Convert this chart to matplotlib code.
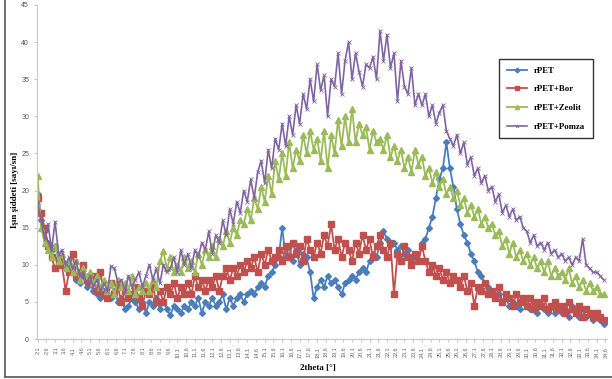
import numpy as np
import matplotlib
matplotlib.use('Agg')
import matplotlib.pyplot as plt
from matplotlib.lines import Line2D

# 2theta [deg], one point every 0.2
theta = np.round(np.arange(2.1, 34.55, 0.2), 1)

rpet = [
    19.5, 16.0, 14.5, 13.0, 12.0, 12.5, 11.0, 10.5, 10.0, 9.0,
    9.5, 8.0, 7.5, 8.5, 7.0, 7.5, 6.5, 6.0, 5.5, 6.5,
    6.0, 5.5, 6.5, 5.0, 5.5, 4.0, 4.5, 5.5, 5.0, 4.0,
    5.0, 3.5, 5.0, 4.5, 5.5, 4.0, 5.0, 4.0, 3.2, 4.5,
    4.0, 3.5, 4.5, 4.0, 5.0, 4.5, 5.5, 3.5, 5.0, 4.5,
    5.5, 4.5, 5.0, 6.0, 4.0, 5.5, 4.5, 5.5, 6.0, 5.0,
    6.0, 6.5, 6.0, 7.0, 7.5, 7.0, 8.5, 9.0, 10.0, 11.0,
    15.0, 11.0, 12.5, 10.5, 12.0, 10.0, 11.5, 11.0, 9.0, 5.5,
    7.0, 8.0, 7.0, 8.5, 7.5, 8.0, 7.0, 6.0, 7.5, 8.0,
    8.5, 8.0, 9.0, 9.5, 9.0, 10.5, 11.5, 11.0, 13.0, 14.5,
    13.5, 12.5, 13.0, 12.0, 12.5, 11.5, 12.0, 10.5, 11.0, 10.5,
    13.0, 13.5, 15.0, 16.5, 19.0, 21.5, 23.0, 26.5, 23.0, 20.5,
    17.5, 15.5, 14.0, 13.0, 11.5, 10.5, 9.0, 8.5, 7.5, 7.0,
    6.5, 5.5, 6.0, 5.0, 5.5, 4.5, 5.0, 4.5, 4.0, 5.0,
    4.5, 4.0, 5.0, 3.5, 4.5, 4.0, 3.5, 4.5, 3.5, 4.0,
    3.5, 4.0, 3.0, 4.5, 3.5, 3.0, 4.0, 3.0, 3.5, 2.5,
    3.0, 2.5, 2.0,
]

rpet_bor = [
    19.0, 17.0, 15.0, 12.5, 11.0, 9.5, 10.5, 10.0, 6.5, 9.0,
    11.5, 8.5, 9.0, 10.0, 8.0, 7.5, 8.5, 6.5, 9.0, 6.0,
    5.5, 7.5, 6.0, 7.0, 5.0, 6.5, 5.5, 6.0, 7.0, 5.5,
    4.5, 6.5, 6.0, 7.0, 5.0, 6.5, 5.0, 7.0, 6.0, 7.5,
    5.5, 7.0, 6.0, 7.5, 6.0, 8.5, 7.0, 8.0, 6.5, 8.0,
    7.0, 8.5, 6.5, 8.5, 9.5, 8.0, 9.5, 8.5, 10.0, 9.0,
    10.5, 9.5, 11.0, 9.0, 11.5, 10.0, 12.0, 10.5, 11.0, 12.0,
    10.5, 12.5, 11.0, 13.0, 11.5, 12.5, 10.5, 13.5, 12.0, 11.0,
    13.0, 11.5, 14.0, 12.5, 15.5, 12.0, 13.5, 11.0, 13.0, 12.0,
    10.5, 13.0, 11.5, 14.0, 12.0, 13.5, 11.0, 12.5, 14.0, 12.0,
    11.0, 13.0, 6.0, 11.5, 10.5, 12.5, 11.0, 10.0, 11.5, 10.5,
    12.5, 10.5, 9.0, 10.0, 8.5, 9.5, 8.0, 9.0, 7.5, 8.5,
    8.0, 7.0, 8.5, 6.5, 7.5, 4.5, 7.0, 6.5, 7.5, 6.0,
    6.5, 5.5, 7.0, 5.0, 6.0, 5.5, 4.5, 6.0, 5.0, 5.5,
    4.5, 5.5, 4.0, 5.0, 4.5, 5.5, 4.0, 4.5, 5.0, 4.0,
    4.5, 3.5, 5.0, 4.0, 3.5, 4.5, 3.0, 4.0, 3.5, 3.0,
    3.5, 3.0, 2.5,
]

rpet_zeolit = [
    22.0, 15.0, 13.0, 12.0, 11.0, 12.5, 10.5, 11.5, 9.5, 10.5,
    9.0, 10.5, 8.0, 9.5, 8.5, 9.0, 7.5, 8.5, 7.0, 8.0,
    6.5, 7.5, 6.0, 8.0, 7.0, 7.5, 6.5, 8.5, 6.0, 7.0,
    6.5, 7.5, 6.5, 8.0, 7.0, 10.5, 11.8, 9.5, 11.0, 9.0,
    10.0, 9.0, 11.0, 9.5, 10.5, 9.0, 11.5, 10.0, 12.0, 11.0,
    12.5, 11.0, 13.5, 12.5, 14.5, 13.0, 15.0, 14.0, 16.0, 15.5,
    17.5, 16.0, 19.0, 17.5, 20.5, 18.5, 22.0, 19.5, 24.0, 21.5,
    25.0, 22.0, 26.5, 23.0, 25.5, 24.0, 27.5, 25.0, 28.0, 25.5,
    27.0, 24.0, 28.0, 23.0, 27.5, 25.0, 29.5, 26.0, 30.0, 26.5,
    31.0, 26.5, 29.0, 27.5, 28.5, 25.5, 28.0, 26.5, 27.0, 25.5,
    27.5, 24.5, 26.0, 24.0, 25.5, 23.0, 24.5, 22.5, 25.5, 23.5,
    24.5, 22.0, 23.0, 21.0, 22.5, 20.5, 21.5, 19.5, 20.5, 19.0,
    20.0, 18.0, 19.0, 17.0, 18.0, 16.5, 17.5, 15.5, 16.5, 15.0,
    15.5, 14.0, 14.5, 12.5, 13.5, 11.5, 13.0, 11.0, 12.0, 10.5,
    11.5, 10.0, 11.0, 9.5, 10.5, 9.0, 10.5, 8.5, 9.5, 8.5,
    9.0, 8.0, 9.5, 7.5, 8.5, 7.0, 8.0, 6.5, 7.5, 6.5,
    7.0, 6.0, 6.0,
]

rpet_pomza = [
    18.5, 16.0, 13.5, 15.5, 12.0, 15.8, 11.5, 12.0, 10.0, 11.0,
    9.5, 10.5, 8.5, 9.0, 7.5, 8.5, 7.0, 8.0, 6.5, 7.5,
    6.5, 9.8, 9.5, 7.5, 8.0, 6.5, 8.5, 7.0, 8.0, 9.0,
    7.0, 8.5, 10.0, 8.0, 9.5, 7.5, 10.0, 9.0, 9.5, 11.0,
    9.0, 12.0, 10.0, 11.5, 9.5, 12.0, 11.0, 13.0, 12.0, 14.5,
    11.5, 14.0, 13.0, 16.0, 14.0, 17.5, 15.5, 18.5, 17.0, 20.0,
    18.5, 21.5, 19.0, 22.5, 24.0, 21.0, 25.5, 23.0, 27.0, 25.5,
    29.0, 26.0, 30.0, 27.5, 31.5, 29.0, 33.0, 31.0, 35.0, 32.0,
    37.0, 33.5, 35.5, 30.0, 35.0, 34.0, 38.5, 33.0, 37.5, 40.0,
    35.0, 38.5, 36.0, 34.0, 37.0, 36.5, 38.0, 35.0, 41.5, 37.5,
    41.0, 36.5, 38.5, 32.0, 37.5, 34.0, 33.0, 36.5, 31.5, 33.0,
    31.5, 33.0, 30.0, 31.5, 29.0, 30.5, 31.5, 28.0, 27.0, 26.0,
    27.5, 25.0, 26.5, 23.5, 24.5, 22.0, 23.0, 21.0, 22.0, 20.0,
    20.5, 18.5, 19.5, 17.0, 18.0, 16.5, 17.5, 16.0, 16.5, 15.0,
    14.5, 13.0, 14.0, 12.5, 13.0, 12.0, 13.0, 11.5, 12.0, 11.0,
    11.5, 10.5, 11.0, 10.0, 11.0, 10.5, 13.5, 10.0, 9.5, 9.0,
    9.0, 8.5, 8.0,
]

labels = ['rPET', 'rPET+Bor', 'rPET+Zeolit', 'rPET+Pomza']
tick_vals = np.round(np.arange(2.1, 34.65, 0.5), 1)

fig = plt.figure(figsize=(6.12, 3.79), dpi=100)
ax = fig.add_axes([0.060, 0.1055, 0.932, 0.8815])

ax.plot(theta, rpet, color='#4A7EBB', lw=1.3, marker='D', ms=3.0, label=labels[0])
ax.plot(theta, rpet_bor, color='#C0504D', lw=1.3, marker='s', ms=3.8, label=labels[1])
ax.plot(theta, rpet_zeolit, color='#9BBB59', lw=1.3, marker='^', ms=3.8, label=labels[2])
ax.plot(theta, rpet_pomza, color='#8064A2', lw=1.2, marker='x', ms=2.5, mew=0.6, label=labels[3])

ax.set_xlim(2.05, 34.7)
ax.set_ylim(0, 45)
ax.set_yticks(np.arange(0, 46, 5))
ax.set_xticks(tick_vals)
ax.set_xticklabels([f'{v:.1f}'.replace('.', ',') for v in tick_vals], rotation=90)

for s in ['top', 'right']:
    ax.spines[s].set_visible(False)
for s in ['left', 'bottom']:
    ax.spines[s].set_color('#C8C8C8')
ax.tick_params(axis='y', labelsize=5, colors='#C8C8C8', labelcolor='#555555', length=2)
ax.tick_params(axis='x', labelsize=4, colors='#C8C8C8', labelcolor='#666666', length=2)
for t in ax.get_xticklabels() + ax.get_yticklabels():
    t.set_family('Liberation Sans')

fig.text(0.025, 0.50, 'Işın şiddeti [sayı/sn]', rotation=90, ha='center', va='center',
         family='Liberation Serif', fontweight='bold', fontsize=6.5)
fig.text(0.52, 0.030, '2theta [°]', ha='center', va='center',
         family='Liberation Serif', fontweight='bold', fontsize=6.5)

leg = ax.legend(loc='upper left', bbox_to_anchor=(0.816, 0.845), bbox_transform=fig.transFigure,
                prop={'family': 'Liberation Serif', 'weight': 'bold', 'size': 6.3},
                frameon=True, fancybox=False, borderpad=0.9, labelspacing=1.2,
                handlelength=2.2, markerscale=0.8, borderaxespad=0)
leg.get_frame().set_edgecolor('black')
leg.get_frame().set_linewidth(1.0)

# outer chart frame, visible on the left and bottom edges
fig.add_artist(Line2D([0.008, 0.008], [0.006, 1.0], transform=fig.transFigure, color='#555555', lw=1.2))
fig.add_artist(Line2D([0.008, 1.0], [0.006, 0.006], transform=fig.transFigure, color='#555555', lw=1.2))

fig.savefig('out.png', dpi=100)
